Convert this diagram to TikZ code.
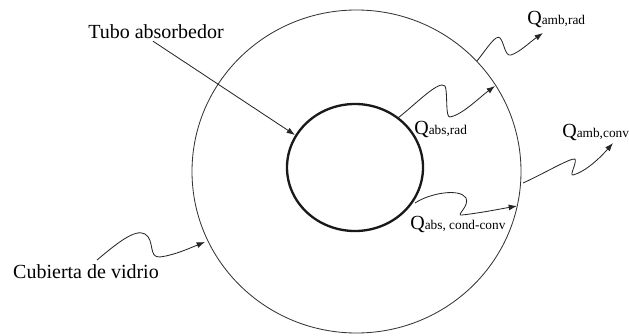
\documentclass[tikz,border=0pt]{standalone}
\usepackage{fontspec}
\setmainfont{Liberation Serif}
\usetikzlibrary{arrows.meta}
\newcommand{\bigQ}{\fontsize{12}{14}\selectfont Q\fontsize{8}{9}\selectfont}
\begin{document}
\begin{tikzpicture}[x=0.6pt,y=-0.6pt,
  lbl/.style={inner sep=0pt,anchor=base,font=\fontsize{12}{14}\selectfont},
  qlbl/.style={inner sep=0pt,anchor=base west},
  flow/.style={line width=0.5pt,draw=black!85,-{Latex[length=5pt,width=3.6pt]}},
  ring/.style={draw=black!80,line width=0.5pt},
  tube/.style={draw=black!90,line width=1.4pt}]
\useasboundingbox (0,0) rectangle (629,335);
% circles
\draw[ring] (356.5,171.5) ellipse [x radius=98.7pt, y radius=96.9pt];
\draw[tube] (355,167.5) ellipse [x radius=40.8pt, y radius=38.1pt];
% labels
\node[lbl] (tubo) at (156,39) {Tubo absorbedor};
\node[lbl] (cub) at (86,278) {Cubierta de vidrio};
\node[qlbl] (qar) at (527,25) {\bigQ amb,rad};
\node[qlbl] (qabr) at (414,134) {\bigQ abs,rad};
\node[qlbl] (qac) at (562,137) {\bigQ amb,conv};
\node[qlbl] (qacc) at (410,229) {\bigQ abs, cond-conv};
% end points
\coordinate (tuboE) at (295,135);
\coordinate (cubS) at (97,260);
\coordinate (cubE) at (205,242);
\coordinate (arS) at (477,61);
\coordinate (arE) at (543,33);
\coordinate (brS) at (398,118);
\coordinate (brE) at (495,86);
\coordinate (acS) at (523,183);
\coordinate (acE) at (613,143);
\coordinate (ccS) at (415,203);
\coordinate (ccE) at (517,206);
% connectors
\draw[flow] ([xshift=-1.8pt,yshift=-1pt]tubo.south) -- (tuboE);
\draw[flow] (cubS) .. controls (115,245) and (135,228) .. (145,234)
  .. controls (155,240) and (148,258) .. (160,257)
  .. controls (175,255) and (190,248) .. (cubE);
\draw[flow] (arS) .. controls (488,47) and (496,34) .. (500,38)
  .. controls (504,42) and (505,57) .. (511,55)
  .. controls (520,52) and (530,42) .. (arE);
\draw[flow] (brS) .. controls (418,102) and (439,80) .. (445,86)
  .. controls (448,92) and (445,118) .. (450,117)
  .. controls (462,115) and (480,97) .. (brE);
\draw[flow] (acS) .. controls (545,173) and (570,158) .. (575,159)
  .. controls (577,163) and (569,176) .. (573,175)
  .. controls (585,172) and (600,158) .. (acE);
\draw[flow] (ccS) .. controls (430,193) and (460,188) .. (466,198)
  .. controls (470,206) and (455,216) .. (462,215)
  .. controls (480,213) and (500,209) .. (ccE);
\end{tikzpicture}
\end{document}
